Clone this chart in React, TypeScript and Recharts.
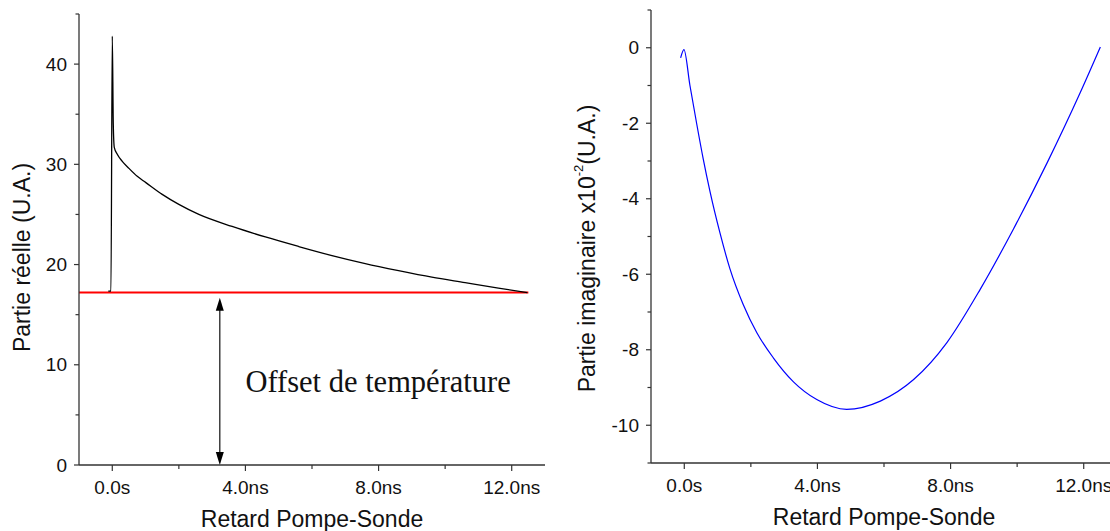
import { LineChart, Line, XAxis, YAxis, ReferenceLine, ReferenceDot } from "recharts";

// time axis (ns)
const delayTicks = [0, 2, 4, 6, 8, 10, 12];
const delayMajor = [0, 4, 8, 12];

// left panel: real part
const realTicks = [0, 5, 10, 15, 20, 25, 30, 35, 40, 45];
const realMajor = [0, 10, 20, 30, 40];
const realDelay = [-0.12, -0.04, 0, 0.03, 0.06, 0.15, 0.3, 0.5, 0.75, 1.0, 1.5, 2.0, 2.6, 3.6, 4.6, 5.6, 6.6, 7.6, 8.6, 9.6, 10.6, 11.6, 12.47];
const realValue = [17.35, 17.35, 42.8, 34, 31.7, 31.0, 30.3, 29.6, 28.8, 28.2, 27.0, 26.0, 25.0, 23.8, 22.75, 21.8, 20.9, 20.1, 19.4, 18.75, 18.2, 17.65, 17.2];
const offsetDelay = [-1, 12.5];
const offsetValue = [17.2, 17.2];
const arrowDelay = 3.23;
const arrowRange = [0, 16.7];

// right panel: imaginary part (x10^-2)
const imagTicks = [-11, -10, -9, -8, -7, -6, -5, -4, -3, -2, -1, 0, 1];
const imagMajor = [-10, -8, -6, -4, -2, 0];
const imagDelay = [-0.11, -0.01, 0.17, 0.37, 0.57, 0.77, 1.07, 1.37, 1.77, 2.18, 2.68, 3.28, 3.98, 4.88, 5.89, 6.89, 7.89, 8.89, 9.89, 10.9, 11.9, 12.5];
const imagValue = [-0.27, -0.05, -1.0, -2.0, -2.95, -3.8, -4.9, -5.85, -6.8, -7.55, -8.22, -8.85, -9.32, -9.58, -9.36, -8.79, -7.81, -6.4, -4.8, -3.05, -1.18, 0.02];

const SANS = "'Liberation Sans', Arial, sans-serif";
const AXIS = "#333";

const realData = realDelay.map((t, i) => ({ t, v: realValue[i] }));
const offsetData = offsetDelay.map((t, i) => ({ t, v: offsetValue[i] }));
const imagData = imagDelay.map((t, i) => ({ t, v: imagValue[i] }));

const fmtDelay = (v: number) => (v === 0 ? "0.0s" : `${v.toFixed(1)}ns`);

const XTick = (props: any) => {
  const { x, y, payload } = props;
  const major = delayMajor.includes(payload.value);
  return (
    <g>
      <line x1={x} y1={y} x2={x} y2={y + (major ? 6 : 4)} stroke={AXIS} strokeWidth={1.2} />
      {major && (
        <text x={x} y={y + 16} dy="0.71em" textAnchor="middle" fontFamily={SANS} fontSize={19} fill="#111">
          {fmtDelay(payload.value)}
        </text>
      )}
    </g>
  );
};

const makeYTick = (majors: number[]) => (props: any) => {
  const { x, y, payload } = props;
  const major = majors.includes(payload.value);
  return (
    <g>
      <line x1={x} y1={y} x2={x - (major ? 5 : 3.5)} y2={y} stroke={AXIS} strokeWidth={1.2} />
      {major && (
        <text x={x - 12} y={y} dy="0.35em" textAnchor="end" fontFamily={SANS} fontSize={19} fill="#111">
          {payload.value}
        </text>
      )}
    </g>
  );
};

const xTitle = (props: any) => {
  const vb = props.viewBox;
  return (
    <text x={vb.x + vb.width / 2} y={vb.y + 62} textAnchor="middle" fontFamily={SANS} fontSize={23} fill="#111">
      Retard Pompe-Sonde
    </text>
  );
};

const Arrow = (props: any) => {
  const { x1, y1, x2, y2 } = props;
  const top = Math.min(y1, y2);
  const bottom = Math.max(y1, y2);
  return (
    <g>
      <line x1={x1} y1={top + 10} x2={x2} y2={bottom - 10} stroke="#222" strokeWidth={1.3} />
      <polygon points={`${x1},${top} ${x1 - 4},${top + 13} ${x1 + 4},${top + 13}`} fill="#000" />
      <polygon points={`${x1},${bottom} ${x1 - 4},${bottom - 13} ${x1 + 4},${bottom - 13}`} fill="#000" />
    </g>
  );
};

export default function App() {
  return (
    <div style={{ position: "absolute", left: 0, top: 0, width: 1110, height: 531, overflow: "hidden", background: "#fff" }}>
      <div style={{ position: "absolute", left: 0, top: 0 }}>
        <LineChart width={560} height={531} data={realData} margin={{ top: 14, right: 15, bottom: 0, left: 0 }}>
          <XAxis
            dataKey="t"
            type="number"
            domain={[-1, 13]}
            ticks={delayTicks}
            interval={0}
            tickSize={0}
            tickMargin={0}
            tickLine={false}
            tick={<XTick />}
            height={66}
            axisLine={{ stroke: AXIS, strokeWidth: 1.3 }}
            label={{ content: xTitle }}
            allowDataOverflow
          />
          <YAxis
            type="number"
            domain={[0, 45]}
            ticks={realTicks}
            interval={0}
            tickSize={0}
            tickMargin={0}
            tickLine={false}
            tick={makeYTick(realMajor)}
            width={79}
            axisLine={{ stroke: AXIS, strokeWidth: 1.3 }}
            label={{
              content: (p: any) => {
                const cx = 22;
                const cy = p.viewBox.y + p.viewBox.height / 2 + 18;
                return (
                  <text x={cx} y={cy} transform={`rotate(-90, ${cx}, ${cy})`} textAnchor="middle" dominantBaseline="central" fontFamily={SANS} fontSize={23} fill="#111">
                    Partie réelle (U.A.)
                  </text>
                );
              },
            }}
            allowDataOverflow
          />
          <Line data={offsetData} dataKey="v" type="linear" stroke="#ff0000" strokeWidth={2} dot={false} isAnimationActive={false} />
          <Line dataKey="v" type="monotone" stroke="#000" strokeWidth={1.3} dot={false} isAnimationActive={false} />
          <ReferenceLine
            segment={[
              { x: arrowDelay, y: arrowRange[0] },
              { x: arrowDelay, y: arrowRange[1] },
            ]}
            shape={Arrow}
          />
          <ReferenceDot
            x={4.0}
            y={7.3}
            r={1}
            shape={(p: any) => (
              <text x={p.cx} y={p.cy} textAnchor="start" fontFamily="'Liberation Serif', 'Times New Roman', serif" fontSize={30.5} fill="#111">
                Offset de température
              </text>
            )}
          />
        </LineChart>
      </div>
      <div style={{ position: "absolute", left: 560, top: 0 }}>
        <LineChart width={600} height={531} data={imagData} margin={{ top: 10, right: 43, bottom: 0, left: 0 }}>
          <XAxis
            dataKey="t"
            type="number"
            domain={[-1, 13]}
            ticks={delayTicks}
            interval={0}
            tickSize={0}
            tickMargin={0}
            tickLine={false}
            tick={<XTick />}
            height={68}
            axisLine={{ stroke: AXIS, strokeWidth: 1.3 }}
            label={{ content: xTitle }}
            allowDataOverflow
          />
          <YAxis
            type="number"
            domain={[-11, 1]}
            ticks={imagTicks}
            interval={0}
            tickSize={0}
            tickMargin={0}
            tickLine={false}
            tick={makeYTick(imagMajor)}
            width={91}
            axisLine={{ stroke: AXIS, strokeWidth: 1.3 }}
            label={{
              content: (p: any) => {
                const cx = 27;
                const cy = p.viewBox.y + p.viewBox.height / 2 + 12;
                return (
                  <text x={cx} y={cy} transform={`rotate(-90, ${cx}, ${cy})`} textAnchor="middle" dominantBaseline="central" fontFamily={SANS} fontSize={23} fill="#111">
                    Partie imaginaire x10
                    <tspan dy={-9} fontSize={13}>-2</tspan>
                    <tspan dy={9}>(U.A.)</tspan>
                  </text>
                );
              },
            }}
            allowDataOverflow
          />
          <Line dataKey="v" type="monotone" stroke="#0000ff" strokeWidth={1.2} dot={false} isAnimationActive={false} />
        </LineChart>
      </div>
    </div>
  );
}
